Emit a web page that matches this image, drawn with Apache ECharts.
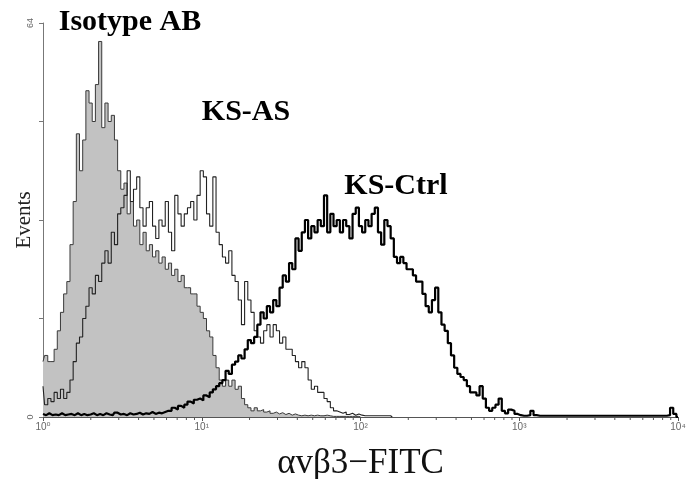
<!DOCTYPE html>
<html>
<head>
<meta charset="utf-8">
<script src="https://cdn.jsdelivr.net/npm/echarts@6/dist/echarts.min.js"></script>
<style>
  html, body { margin: 0; padding: 0; background: #fff; }
  #chart { width: 695px; height: 479px; }
</style>
</head>
<body>
<div id="chart"></div>
<script>
// channel width in decades (200 channels over 10^0 .. 10^4)
const DECADES_PER_CHANNEL = 0.02;

// events per channel
const isotypeCounts = [
  9, 10, 9, 9, 11, 14, 17, 20, 22, 28,
  35, 46, 40, 45, 53, 51, 48, 54, 61, 47,
  51, 48, 49, 45, 40, 37, 38, 33, 35, 31,
  32, 28, 30, 27, 28, 26, 27, 25, 26, 24,
  25, 23, 24, 22, 23, 21, 21, 20, 20, 18,
  17, 16, 14, 13, 10, 8, 6, 5, 6, 5,
  6, 4.5, 5, 3, 2, 1.5, 1, 1.5, 1, 1.2,
  0.8, 1, 0.6, 0.8, 0.5, 0.7, 0.4, 0.6, 0.3, 0.5,
  0.3, 0.2, 0.3, 0.2, 0.3, 0.2, 0.3, 0.2, 0.2, 0.3,
  0.2, 0.1, 0.1, 0.1, 0.1, 0.1, 0.1, 0.1, 0.1, 0.1, 0
];

const ksAsCounts = [
  5, 2, 3, 2.5, 4, 3, 4.5, 3, 4, 6,
  9, 12, 13, 16, 18, 21, 20, 23, 22, 25,
  27, 25, 30, 28, 33, 34, 36, 40, 35, 37,
  39, 34, 31, 34, 35, 31, 29, 32, 31, 35,
  30, 27, 36, 33, 31, 33, 34, 35, 32, 36,
  40, 39, 33, 31, 39, 30, 28, 26, 25, 27,
  23, 22, 19, 15, 22, 19, 17, 14, 13, 12,
  14, 15, 13, 15, 14, 12, 13, 11, 11, 10,
  9, 8, 9, 8, 6, 4.5, 5, 4, 4, 3,
  2.5, 1.5, 1, 0.8, 0.6, 0.8, 0.4, 0.6, 0.3, 0.5,
  0.3, 0.2, 0.2, 0.2, 0.2, 0.2, 0.2, 0.2, 0.2, 0.2, 0
];

const ksCtrlCounts = [
  0.5, 0.3, 0.6, 0.3, 0.4, 0.3, 0.6, 0.3, 0.4, 0.5,
  0.3, 0.6, 0.3, 0.5, 0.3, 0.4, 0.6, 0.3, 0.5, 0.3,
  0.6, 0.4, 0.3, 0.7, 0.4, 0.5, 0.3, 0.6, 0.4, 0.5,
  0.7, 0.4, 0.6, 0.5, 0.8, 0.5, 0.7, 0.6, 0.8, 1,
  1, 1.5, 1.2, 1.8, 1.5, 2, 2.5, 2.2, 2.8, 3,
  2.7, 3.5, 3.2, 4, 4.5, 5, 5.5, 6, 7.5, 7,
  8.5, 9, 10, 9.5, 11, 12.5, 12, 13, 15, 17,
  16, 18, 17, 19, 18, 21, 23, 22, 25, 24,
  29, 27, 30, 32, 29, 31, 30, 32, 31, 36,
  30, 33, 31, 32, 30, 32, 31, 29, 33, 34,
  31, 30, 32, 31, 33, 34, 30, 28, 32, 31,
  29, 26, 25, 26, 25, 24, 24, 23, 22, 22,
  20, 18, 17, 19, 21, 17, 15, 14, 12, 10,
  8, 7, 6.5, 6, 5, 4, 4, 3.5, 5, 3,
  1.5, 1, 1.5, 2, 3, 1, 0.6, 1.2, 1, 0.5,
  0.3, 0.2, 0.2, 0.3, 1, 0.3, 0.2, 0.2, 0.2, 0.2,
  0.2, 0.2, 0.2, 0.2, 0.2, 0.2, 0.2, 0.2, 0.2, 0.2,
  0.2, 0.2, 0.2, 0.2, 0.2, 0.2, 0.2, 0.2, 0.2, 0.2,
  0.2, 0.2, 0.2, 0.2, 0.2, 0.2, 0.2, 0.2, 0.2, 0.2,
  0.2, 0.2, 0.2, 0.2, 0.2, 0.2, 0.2, 0.3, 1.5, 0.5, 0
];

// axis ticks
const xDecades = [0, 1, 2, 3, 4];
const superscripts = ['\u2070', '\u00b9', '\u00b2', '\u00b3', '\u2074'];
const minorMultipliers = [2, 3, 4, 5, 6, 7, 8, 9];
const yTickLabels = [0, 64];

const labels = [
  { text: 'Isotype AB', x: 130, y: 22 },
  { text: 'KS-AS', x: 246, y: 112 },
  { text: 'KS-Ctrl', x: 396, y: 186 }
];

function toPairs(counts) {
  return counts.map((v, i) => [i * DECADES_PER_CHANNEL, v]);
}

const minorTicks = [];
xDecades.slice(0, -1).forEach(d => {
  minorMultipliers.forEach(m => minorTicks.push([d + Math.log10(m), 0]));
});

const chart = echarts.init(document.getElementById('chart'));

const option = {
  animation: false,
  grid: { left: 43, right: 17, top: 23, bottom: 62, outerBoundsMode: 'none', containLabel: false },
  xAxis: {
    type: 'value',
    min: 0,
    max: 4,
    interval: 1,
    name: '\u03b1v\u03b23\u2212FITC',
    nameLocation: 'middle',
    nameGap: 29,
    nameMoveOverlap: false,
    nameTextStyle: { fontFamily: 'Liberation Serif', fontSize: 35, color: '#111' },
    axisLine: { lineStyle: { color: '#555', width: 1 } },
    axisTick: { length: 4, lineStyle: { color: '#555' } },
    axisLabel: {
      margin: 5,
      fontSize: 10,
      color: '#666',
      fontFamily: 'Liberation Sans, DejaVu Sans',
      formatter: v => '10' + superscripts[v]
    },
    splitLine: { show: false }
  },
  yAxis: {
    type: 'value',
    min: 0,
    max: 64,
    interval: 16,
    name: 'Events',
    nameLocation: 'middle',
    nameRotate: 90,
    nameGap: 8,
    nameMoveOverlap: false,
    nameTextStyle: { fontFamily: 'Liberation Serif', fontSize: 21, color: '#222' },
    axisLine: { show: true, lineStyle: { color: '#777', width: 1 } },
    axisTick: { show: true, length: 4, lineStyle: { color: '#777' } },
    axisLabel: {
      rotate: 90,
      margin: 8,
      fontSize: 9,
      color: '#666',
      fontFamily: 'Liberation Sans',
      formatter: v => (yTickLabels.includes(v) ? String(v) : '')
    },
    splitLine: { show: false }
  },
  graphic: labels.map(l => ({
    type: 'text',
    x: l.x,
    y: l.y,
    style: {
      text: l.text,
      fill: '#000',
      font: 'bold 30px "Liberation Serif"',
      align: 'center',
      verticalAlign: 'middle'
    }
  })),
  series: [
    {
      name: 'Isotype AB',
      type: 'line',
      step: 'middle',
      symbol: 'none',
      data: toPairs(isotypeCounts),
      lineStyle: { color: '#3a3a3a', width: 1 },
      areaStyle: { color: '#c2c2c2', opacity: 1 },
      z: 2
    },
    {
      name: 'KS-AS',
      type: 'line',
      step: 'middle',
      symbol: 'none',
      data: toPairs(ksAsCounts),
      lineStyle: { color: '#222', width: 1.1 },
      z: 3
    },
    {
      name: 'KS-Ctrl',
      type: 'line',
      step: 'middle',
      symbol: 'none',
      data: toPairs(ksCtrlCounts),
      lineStyle: { color: '#000', width: 2.2 },
      z: 4
    },
    {
      name: 'minor ticks',
      type: 'custom',
      silent: true,
      clip: false,
      data: minorTicks,
      renderItem: (params, api) => {
        const p = api.coord([api.value(0), 0]);
        return {
          type: 'line',
          shape: { x1: p[0], y1: p[1], x2: p[0], y2: p[1] + 3 },
          style: { stroke: '#555', lineWidth: 1 }
        };
      },
      z: 5
    }
  ]
};

chart.setOption(option);
</script>
</body>
</html>
